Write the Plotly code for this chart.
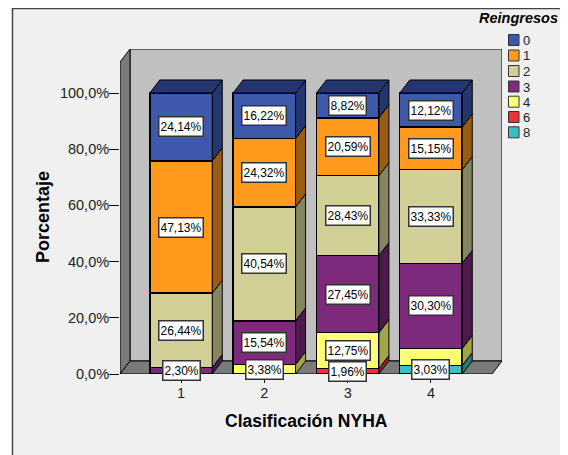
import plotly.graph_objects as go

# 1. Data
groups = [1, 2, 3, 4]
reingresos = ['8', '6', '4', '3', '2', '1', '0']  # bottom of the stack first
legend_order = ['0', '1', '2', '3', '4', '6', '8']
values = {
    '8': [None, None, None, 3.03],
    '6': [None, None, 1.96, None],
    '4': [None, 3.38, 12.75, 6.06],
    '3': [2.30, 15.54, 27.45, 30.30],
    '2': [26.44, 40.54, 28.43, 33.33],
    '1': [47.13, 24.32, 20.59, 15.15],
    '0': [24.14, 16.22, 8.82, 12.12],
}
front = {'0': '#3E58AC', '1': '#FF9A1C', '2': '#D2CF97', '3': '#7D2A7D',
         '4': '#FFFF73', '6': '#EE3338', '8': '#3FC0C0'}
side = {'0': '#24366E', '1': '#9A5C12', '2': '#87855F', '3': '#4C1A4C',
        '4': '#A3A34A', '6': '#96201F', '8': '#277A7A'}
y_ticks = [0, 20, 40, 60, 80, 100]
y_labels = ['0,0%', '20,0%', '40,0%', '60,0%', '80,0%', '100,0%']
hidden_labels = [('4', 4)]  # covered by the 3,03% box in the original

# 2. Scales: 83.33 px per group, 2.81 px per percent
# the page body has an 8px margin, so the figure itself starts at (8, 8)
PAGE = 8
W, H = 560, 447
PX = 83.33
PY = 2.81
x0_px, y0_px, right_px, top_px = 120, 374, 502, 49
x_range = [1 + (x0_px - 181) / PX, 1 + (right_px - 181) / PX]
y_range = [0, (y0_px - top_px) / PY]
dx = 10 / PX      # 3d depth in data units
dy = 13 / PY
bar_w = 0.75
x_left = x_range[0]
x_front_right = x_range[1] - dx
wall_top = y_range[1]

def paper_x(p):
    return (p - x0_px) / (right_px - x0_px)

def paper_y(p):
    return (y0_px - p) / (y0_px - top_px)

fig = go.Figure()

# 3. Walls and floor
def poly(xs, ys, fill):
    path = 'M' + 'L'.join(f'{x},{y}' for x, y in zip(xs, ys)) + 'Z'
    return dict(type='path', path=path, xref='x', yref='y', fillcolor=fill,
                line=dict(color='black', width=1), layer='below')

shapes = [
    dict(type='rect', xref='paper', yref='paper', x0=paper_x(12.5), x1=paper_x(563.5), y0=paper_y(465),
         y1=paper_y(8.5), fillcolor='#F0F0F0', line=dict(color='#444444', width=1.5), layer='below'),
    poly([x_left + dx, x_range[1], x_range[1], x_left + dx], [dy, dy, wall_top, wall_top], '#C0C0C0'),
    poly([x_left, x_left + dx, x_left + dx, x_left], [0, dy, wall_top, wall_top - dy], '#7A7A7A'),
    poly([x_left, x_left + dx, x_range[1], x_front_right], [0, dy, dy, 0], '#7A7A7A'),
]

# 4. Stacked bars with side and top faces built from the same values
cum = [0, 0, 0, 0]
annotations = []
for r in reingresos:
    vals = values[r]
    fig.add_trace(go.Bar(x=groups, y=vals, width=bar_w, name=r, showlegend=False,
                         marker=dict(color=front[r], line=dict(color='black', width=1.5))))
    for i, g in enumerate(groups):
        v = vals[i]
        if v is None:
            continue
        bottom, cum[i] = cum[i], cum[i] + v
        xr = g + bar_w / 2
        fig.add_trace(go.Scatter(
            x=[xr, xr + dx, xr + dx, xr, xr], y=[bottom, bottom + dy, cum[i] + dy, cum[i], bottom],
            mode='lines', fill='toself', fillcolor=side[r], line=dict(color='black', width=1),
            showlegend=False, hoverinfo='skip'))
        if (r, g) not in hidden_labels:
            annotations.append(dict(
                x=g, y=bottom + v / 2, xref='x', yref='y', showarrow=False,
                text=f'{v:.2f}'.replace('.', ',') + '%',
                font=dict(family='Liberation Sans', size=12, color='black'),
                bgcolor='white', bordercolor='#333333', borderwidth=1.5, borderpad=1, height=16))

# top face of each column
for i, g in enumerate(groups):
    xl, xr = g - bar_w / 2, g + bar_w / 2
    fig.add_trace(go.Scatter(
        x=[xl, xl + dx, xr + dx, xr, xl], y=[cum[i], cum[i] + dy, cum[i] + dy, cum[i], cum[i]],
        mode='lines', fill='toself', fillcolor=side['0'], line=dict(color='black', width=1),
        showlegend=False, hoverinfo='skip'))

# 5. Legend drawn by hand: the row pitch is tighter than plotly's legend allows
legend_y = [40, 55.5, 71, 86.5, 101.7, 117, 132.3]
for name, ly in zip(legend_order, legend_y):
    shapes.append(dict(type='rect', xref='paper', yref='paper', x0=paper_x(508.5), x1=paper_x(519),
                       y0=paper_y(ly + 5.5), y1=paper_y(ly - 5.5), fillcolor=front[name],
                       line=dict(color='#333333', width=1)))
    annotations.append(dict(x=paper_x(520.5), y=paper_y(ly + 0.5), xref='paper', yref='paper', xanchor='left',
                            yanchor='middle', text=name, showarrow=False,
                            font=dict(family='Liberation Sans', size=13, color='#222222')))
annotations.append(dict(x=paper_x(560), y=paper_y(18.5), xref='paper', yref='paper', xanchor='right',
                        yanchor='middle', text='<b><i>Reingresos</i></b>', showarrow=False,
                        font=dict(family='Liberation Sans', size=14.5, color='black')))

# 6. Axis titles
annotations.append(dict(x=paper_x(306), y=paper_y(421), xref='paper', yref='paper', text='<b>Clasificación NYHA</b>',
                        xanchor='center', yanchor='middle', showarrow=False,
                        font=dict(family='Liberation Sans', size=17.5, color='black')))
annotations.append(dict(x=paper_x(43), y=paper_y(217), xref='paper', yref='paper', text='<b>Porcentaje</b>', textangle=-90,
                        xanchor='center', yanchor='middle', showarrow=False,
                        font=dict(family='Liberation Sans', size=18, color='black')))

fig.update_layout(
    width=W, height=H, barmode='stack', showlegend=False,
    paper_bgcolor='white', plot_bgcolor='rgba(0,0,0,0)',
    margin=dict(l=x0_px - PAGE, r=W - (right_px - PAGE), t=top_px - PAGE, b=H - (y0_px - PAGE), autoexpand=False),
    shapes=shapes, annotations=annotations,
    font=dict(family='Liberation Sans', size=14.5, color='#222222'),
)
fig.update_xaxes(range=x_range, tickvals=groups, ticktext=[str(g) for g in groups], ticks='outside',
                 ticklen=8, tickcolor='black', showgrid=False, zeroline=False, showline=False, ticklabelstandoff=-2)
fig.update_yaxes(range=y_range, tickvals=y_ticks, ticktext=y_labels, ticks='outside',
                 ticklen=10, tickcolor='black', showgrid=False, zeroline=False, showline=False, ticklabelstandoff=-3)

fig.write_html("out.html")
